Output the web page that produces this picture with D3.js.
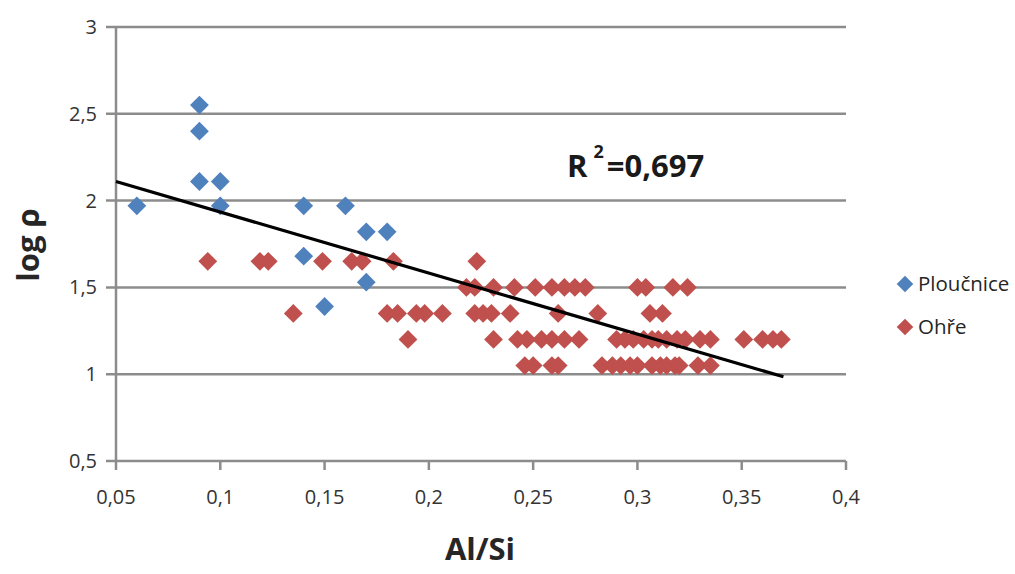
<!DOCTYPE html>
<html>
<head>
<meta charset="utf-8">
<script src="https://cdn.jsdelivr.net/npm/d3@7"></script>
<style>
  body { margin: 0; background: #fff; }
  svg { display: block; font-family: "Open Sans", sans-serif; }
</style>
</head>
<body>
<div id="chart"></div>
<script>
const width = 1015, height = 574;

// Ploučnice (blue)
const ploucniceAlSi = [0.06, 0.09, 0.09, 0.09, 0.10, 0.10, 0.14, 0.14, 0.16, 0.17, 0.18, 0.17, 0.15];
const ploucniceLogRho = [1.97, 2.55, 2.40, 2.11, 2.11, 1.97, 1.97, 1.68, 1.97, 1.82, 1.82, 1.53, 1.39];

// Ohře (red), grouped by row
const ohreAlSi = [
  0.094, 0.119, 0.123, 0.149, 0.163, 0.168, 0.183, 0.223,
  0.218, 0.222, 0.231, 0.241, 0.251, 0.259, 0.265, 0.270, 0.275, 0.300, 0.304, 0.317, 0.324,
  0.135, 0.180, 0.185, 0.194, 0.198, 0.2065, 0.222, 0.226, 0.230, 0.239, 0.262, 0.281, 0.306, 0.312,
  0.190, 0.231, 0.2425, 0.247, 0.254, 0.259, 0.265, 0.272, 0.290, 0.294, 0.298, 0.303, 0.307, 0.310, 0.314, 0.319, 0.323, 0.330, 0.335, 0.351, 0.360, 0.365, 0.369,
  0.246, 0.250, 0.259, 0.262, 0.283, 0.288, 0.292, 0.2965, 0.300, 0.307, 0.311, 0.314, 0.318, 0.320, 0.329, 0.335
];
const ohreLogRho = [
  1.65, 1.65, 1.65, 1.65, 1.65, 1.65, 1.65, 1.65,
  1.5, 1.5, 1.5, 1.5, 1.5, 1.5, 1.5, 1.5, 1.5, 1.5, 1.5, 1.5, 1.5,
  1.35, 1.35, 1.35, 1.35, 1.35, 1.35, 1.35, 1.35, 1.35, 1.35, 1.35, 1.35, 1.35, 1.35,
  1.2, 1.2, 1.2, 1.2, 1.2, 1.2, 1.2, 1.2, 1.2, 1.2, 1.2, 1.2, 1.2, 1.2, 1.2, 1.2, 1.2, 1.2, 1.2, 1.2, 1.2, 1.2, 1.2,
  1.05, 1.05, 1.05, 1.05, 1.05, 1.05, 1.05, 1.05, 1.05, 1.05, 1.05, 1.05, 1.05, 1.05, 1.05, 1.05
];

const trendAlSi = [0.05, 0.37];
const trendLogRho = [2.11, 0.985];
const rSquared = "0,697";

const xTicks = [0.05, 0.1, 0.15, 0.2, 0.25, 0.3, 0.35, 0.4];
const yTicks = [0.5, 1, 1.5, 2, 2.5, 3];
const seriesNames = ["Ploučnice", "Ohře"];
const seriesColors = ["#4f81bd", "#c0504d"];

const margin = {left: 116, right: 169, top: 27, bottom: 113};

const x = d3.scaleLinear().domain([0.05, 0.4]).range([margin.left, width - margin.right]);
const y = d3.scaleLinear().domain([0.5, 3]).range([height - margin.bottom, margin.top]);

const fmt = d => String(d).replace('.', ',');

const svg = d3.select('#chart').append('svg')
  .attr('width', width)
  .attr('height', height);

svg.append('rect').attr('width', width).attr('height', height).attr('fill', '#fff');

const gridColor = '#8c8c8c';

// horizontal gridlines (with tick stubs on the left)
svg.append('g')
  .selectAll('line')
  .data(yTicks)
  .join('line')
    .attr('x1', margin.left - 10)
    .attr('x2', x(0.4))
    .attr('y1', d => y(d))
    .attr('y2', d => y(d))
    .attr('stroke', gridColor)
    .attr('stroke-width', 2.5);

// y axis line
svg.append('line')
  .attr('x1', x(0.05)).attr('x2', x(0.05))
  .attr('y1', y(3)).attr('y2', y(0.5))
  .attr('stroke', gridColor).attr('stroke-width', 2.5);

// x tick stubs
svg.append('g')
  .selectAll('line')
  .data(xTicks)
  .join('line')
    .attr('x1', d => x(d)).attr('x2', d => x(d))
    .attr('y1', y(0.5)).attr('y2', y(0.5) + 9)
    .attr('stroke', gridColor).attr('stroke-width', 2.5);

// tick labels
svg.append('g')
  .selectAll('text')
  .data(yTicks)
  .join('text')
    .attr('x', margin.left - 19)
    .attr('y', d => y(d))
    .attr('dy', '0.35em')
    .attr('text-anchor', 'end')
    .attr('font-size', 20)
    .attr('fill', '#333')
    .text(fmt);

svg.append('g')
  .selectAll('text')
  .data(xTicks)
  .join('text')
    .attr('x', d => x(d))
    .attr('y', y(0.5) + 36)
    .attr('dy', '0.35em')
    .attr('text-anchor', 'middle')
    .attr('font-size', 20)
    .attr('fill', '#333')
    .text(fmt);

// axis titles
svg.append('text')
  .attr('x', 480).attr('y', 549)
  .attr('dy', '0.35em')
  .attr('text-anchor', 'middle')
  .attr('font-size', 31).attr('font-weight', 'bold')
  .attr('fill', '#262626')
  .text('Al/Si');

svg.append('text')
  .attr('transform', 'translate(28,245) rotate(-90)')
  .attr('dy', '0.35em')
  .attr('text-anchor', 'middle')
  .attr('font-size', 31).attr('font-weight', 'bold')
  .attr('fill', '#262626')
  .text('log ρ');

// points
const diamond = d3.symbol().type(d3.symbolDiamond2).size(225);

const series = [
  {name: seriesNames[0], color: seriesColors[0], xs: ploucniceAlSi, ys: ploucniceLogRho},
  {name: seriesNames[1], color: seriesColors[1], xs: ohreAlSi, ys: ohreLogRho}
];

series.forEach(s => {
  svg.append('g')
    .selectAll('path')
    .data(s.xs.map((v, i) => [v, s.ys[i]]))
    .join('path')
      .attr('d', diamond)
      .attr('transform', d => `translate(${x(d[0])},${y(d[1])})`)
      .attr('fill', s.color);
});

// trend line
svg.append('line')
  .attr('x1', x(trendAlSi[0])).attr('y1', y(trendLogRho[0]))
  .attr('x2', x(trendAlSi[1])).attr('y2', y(trendLogRho[1]))
  .attr('stroke', '#000').attr('stroke-width', 3.2);

// R² label
const r2 = svg.append('text')
  .attr('x', 567).attr('y', 177)
  .attr('font-size', 31).attr('font-weight', 'bold')
  .attr('fill', '#1a1a1a');
r2.append('tspan').text('R');
r2.append('tspan').attr('dy', -19).attr('dx', 6).attr('font-size', 18).text('2');
r2.append('tspan').attr('dy', 19).attr('dx', 3).text('=' + rSquared);

// legend
const legend = svg.append('g')
  .selectAll('g')
  .data(series)
  .join('g')
    .attr('transform', (d, i) => `translate(905,${284 + i * 43})`);

legend.append('path')
  .attr('d', d3.symbol().type(d3.symbolDiamond2).size(175))
  .attr('fill', d => d.color);

legend.append('text')
  .attr('x', 13)
  .attr('dy', '0.35em')
  .attr('font-size', 20.5)
  .attr('fill', '#262626')
  .text(d => d.name);
</script>
</body>
</html>
